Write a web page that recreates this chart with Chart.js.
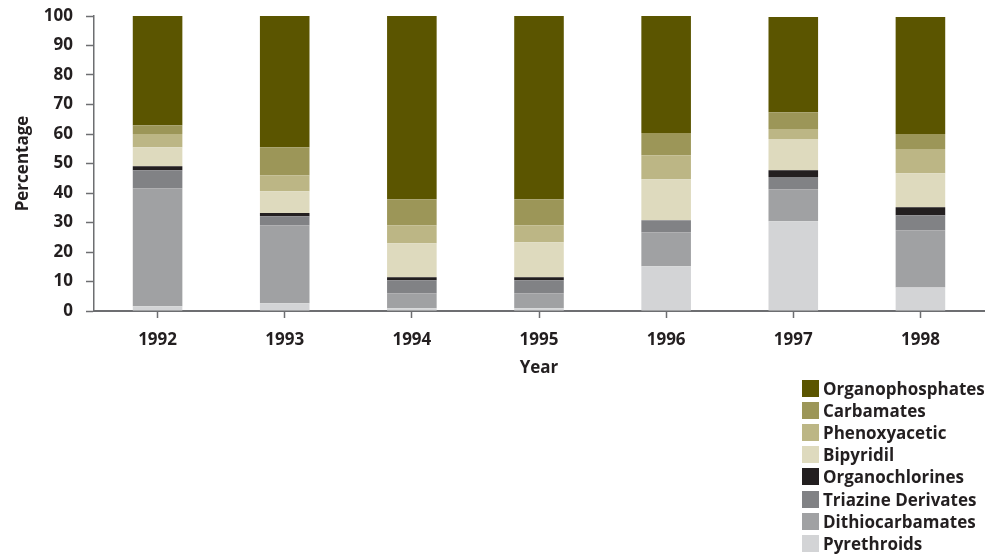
<!DOCTYPE html>
<html>
<head>
<meta charset="utf-8">
<script src="https://cdn.jsdelivr.net/npm/chart.js@4/dist/chart.umd.min.js"></script>
<style>
    html, body { margin: 0; padding: 0; background: #fff; }
    #wrap { position: relative; width: 1002px; height: 556px; }
    #chart { position: absolute; left: 0; top: 0; }
    #legend { position: absolute; left: 802px; top: 377px; font-family: "Open Sans", sans-serif; font-weight: bold; font-size: 17px; color: #231f20; }
    .row { height: 22.2px; display: flex; align-items: center; }
    .box { width: 17px; height: 17px; margin-right: 4px; }
</style>
</head>
<body>
<div id="wrap">
    <canvas id="chart" width="1002" height="556"></canvas>
    <div id="legend"></div>
</div>
<script>
// --- DATA ---
const years = ['1992', '1993', '1994', '1995', '1996', '1997', '1998'];
const pyrethroids      = [1.6, 2.6, 0.9, 0.9, 15.2, 30.4, 8.0];
const dithiocarbamates = [40.0, 26.5, 5.1, 5.1, 11.5, 10.9, 19.4];
const triazine         = [6.1, 3.0, 4.4, 4.4, 4.1, 4.1, 5.1];
const organochlorines  = [1.4, 1.1, 1.0, 1.0, 0, 2.3, 2.7];
const bipyridil        = [6.4, 7.4, 11.6, 11.9, 13.9, 10.6, 11.5];
const phenoxyacetic    = [4.5, 5.4, 6.1, 5.8, 8.1, 3.4, 8.2];
const carbamates       = [3.0, 9.5, 8.8, 8.8, 7.5, 5.7, 5.1];
const organophosphates = [37.0, 44.5, 62.1, 62.1, 39.7, 32.3, 39.7];
const yTicks = [0, 10, 20, 30, 40, 50, 60, 70, 80, 90, 100];

// --- COLORS ---
const colors = {
    pyr: '#d3d4d6',
    dith: '#a0a1a3',
    tri: '#818285',
    oc: '#231f20',
    bip: '#dedabe',
    phen: '#bcb685',
    carb: '#9c9658',
    op: '#5b5500'
};

// stacked bottom to top
const series = [
    { label: 'Pyrethroids', data: pyrethroids, color: colors.pyr },
    { label: 'Dithiocarbamates', data: dithiocarbamates, color: colors.dith },
    { label: 'Triazine Derivates', data: triazine, color: colors.tri },
    { label: 'Organochlorines', data: organochlorines, color: colors.oc },
    { label: 'Bipyridil', data: bipyridil, color: colors.bip },
    { label: 'Phenoxyacetic', data: phenoxyacetic, color: colors.phen },
    { label: 'Carbamates', data: carbamates, color: colors.carb },
    { label: 'Organophosphates', data: organophosphates, color: colors.op }
];

const textColor = '#231f20';
const axisColor = '#6d6e71';
const font = { family: '"Open Sans", sans-serif', size: 17, weight: 'bold' };

const ctx = document.getElementById('chart').getContext('2d');
new Chart(ctx, {
    type: 'bar',
    data: {
        labels: years,
        datasets: series.map(s => ({
            label: s.label,
            data: s.data,
            backgroundColor: s.color,
            borderWidth: 0,
            barPercentage: 0.39,
            categoryPercentage: 1
        }))
    },
    options: {
        responsive: false,
        animation: false,
        layout: { padding: { left: 0, right: 18, top: 16, bottom: 178 } },
        plugins: {
            legend: { display: false },
            tooltip: { enabled: false }
        },
        scales: {
            x: {
                stacked: true,
                grid: { drawOnChartArea: false, offset: false, tickLength: 7, tickColor: axisColor, tickWidth: 1.5 },
                border: { color: axisColor, width: 2 },
                ticks: { color: textColor, font: font, padding: 12 },
                title: { display: true, text: 'Year', color: textColor, font: font, padding: 0 },
                afterFit: (scale) => {
                    scale.height = 67;
                    scale.paddingLeft = 0;
                    scale.paddingRight = 0;
                }
            },
            y: {
                stacked: true,
                min: 0,
                max: 100,
                afterBuildTicks: (scale) => { scale.ticks = yTicks.map(v => ({ value: v })); },
                grid: { drawOnChartArea: false, tickLength: 8, tickColor: axisColor, tickWidth: 1.5 },
                border: { color: axisColor, width: 1.5 },
                ticks: { color: textColor, font: font, padding: 13 },
                title: { display: true, text: 'Percentage', color: textColor, font: font, padding: { top: 13 } },
                afterFit: (scale) => {
                    scale.width = 94;
                    scale.paddingTop = 0;
                    scale.paddingBottom = 0;
                }
            }
        }
    }
});

// --- LEGEND (top to bottom) ---
const legendEl = document.getElementById('legend');
series.slice().reverse().forEach(s => {
    const row = document.createElement('div');
    row.className = 'row';
    row.innerHTML = `<div class="box" style="background:${s.color}"></div><span>${s.label}</span>`;
    legendEl.appendChild(row);
});
</script>
</body>
</html>
